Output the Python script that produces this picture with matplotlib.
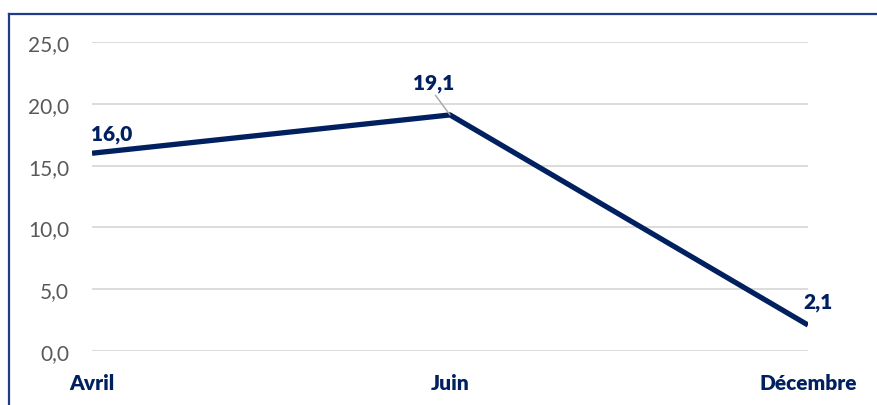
import matplotlib
matplotlib.use("Agg")
import matplotlib.pyplot as plt
from matplotlib.lines import Line2D
from matplotlib.ticker import FuncFormatter

mois = ["Avril", "Juin", "Décembre"]
valeurs = [16.0, 19.1, 2.1]
yticks = [0, 5, 10, 15, 20, 25]

bleu = "#002060"
gris = "#595959"

plt.rcParams["font.family"] = ["Lato", "DejaVu Sans"]

fig = plt.figure(figsize=(8.78, 4.06), dpi=100)
ax = fig.add_axes([92 / 878, 1 - 352 / 406, (808 - 92) / 878, (352 - 43) / 406])

x = list(range(len(mois)))
ax.plot(x, valeurs, color=bleu, lw=3.8, solid_capstyle="butt", zorder=3)

ax.set_xlim(0, len(mois) - 1)
ax.set_ylim(0, 25)
ax.set_yticks(yticks)
ax.yaxis.set_major_formatter(FuncFormatter(lambda v, p: f"{v:.1f}".replace(".", ",")))
ax.grid(axis="y", color="#d9d9d9", lw=1.3)
ax.set_axisbelow(True)
for s in ax.spines.values():
    s.set_visible(False)
ax.tick_params(axis="y", length=0, pad=16.5, labelsize=15, labelcolor=gris)

ax.set_xticks(x)
ax.set_xticklabels(mois, fontweight="heavy", color=bleu, fontsize=15)
ax.tick_params(axis="x", length=0, pad=16)

# étiquettes de valeurs
decalages = [(14, 14), (-12, 23), (7, 17)]
for i, (v, d) in enumerate(zip(valeurs, decalages)):
    kw = {}
    if i == 1:
        kw["arrowprops"] = dict(arrowstyle="-", color="#a6a6a6", lw=1,
                                shrinkA=0, shrinkB=0, relpos=(0.5, 0))
    ax.annotate(f"{v:.1f}".replace(".", ","), (i, v), xytext=d,
                textcoords="offset points", ha="center", va="center",
                fontsize=15, fontweight="heavy", color=bleu, **kw)

# cadre du graphique
fig.add_artist(Line2D([9.5 / 878, 9.5 / 878], [0, 1 - 14.5 / 406],
                      transform=fig.transFigure, color="#1f3c88", lw=1.6))
fig.add_artist(Line2D([9.5 / 878, 1], [1 - 14.5 / 406, 1 - 14.5 / 406],
                      transform=fig.transFigure, color="#1f3c88", lw=1.6))

fig.savefig("out.png", dpi=100)
